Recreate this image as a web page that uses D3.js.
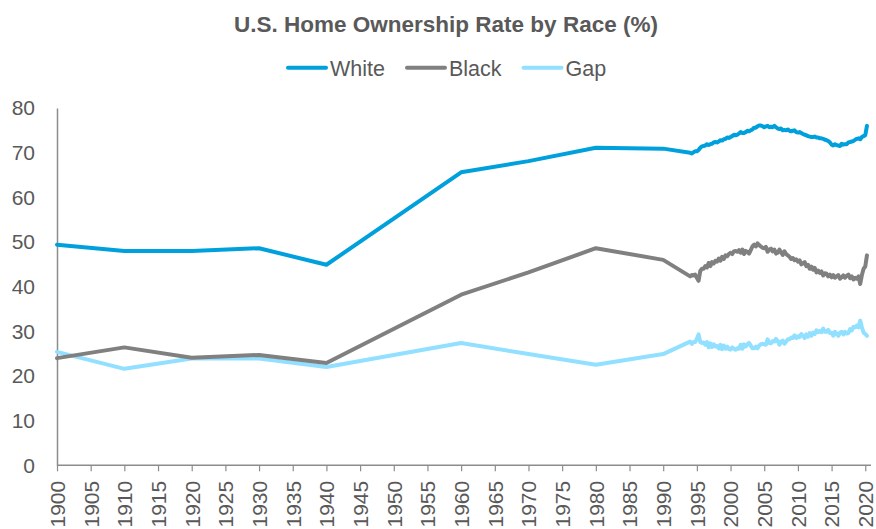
<!DOCTYPE html>
<html>
<head>
<meta charset="utf-8">
<script src="https://cdn.jsdelivr.net/npm/d3@7"></script>
<style>
  html, body { margin: 0; padding: 0; background: #fff; }
  svg { display: block; font-family: "Liberation Sans", Arial, sans-serif; }
</style>
</head>
<body>
<svg id="chart" width="876" height="529"></svg>
<script>
// ---- Data ----
const title = "U.S. Home Ownership Rate by Race (%)";
const seriesNames = ["White", "Black", "Gap"];

// Decennial census points
const censusYears = [1900, 1910, 1920, 1930, 1940, 1960, 1970, 1980, 1990];
const whiteCensus = [49.4, 48.0, 48.0, 48.6, 44.9, 65.6, 68.1, 71.1, 70.9];
const blackCensus = [24.0, 26.4, 24.1, 24.7, 22.9, 38.2, 43.2, 48.6, 46.0];
const gapCensus   = [25.4, 21.6, 23.9, 23.9, 22.0, 27.4, 24.9, 22.5, 24.9];

// Quarterly survey points, 1994 Q1 .. 2020 Q2
const quarterStartYear = 1994;
const whiteQuarterly = [
  70.0, 69.8, 70.1, 70.3,  70.3, 70.6, 71.1, 71.4,  71.5, 71.6, 71.9, 71.7,
  71.9, 72.0, 72.3, 72.4,  72.3, 72.5, 72.8, 72.7,  73.0, 73.1, 73.4, 73.3,
  73.5, 73.7, 74.0, 73.9,  74.0, 74.3, 74.6, 74.4,  74.4, 74.6, 74.9, 74.8,
  75.0, 75.2, 75.6, 75.6,  75.9, 76.1, 76.1, 75.9,  75.7, 75.9, 76.0, 75.7,
  75.8, 75.7, 76.0, 75.7,  75.4, 75.3, 75.4, 75.0,  75.1, 75.0, 75.2, 74.9,
  74.8, 74.9, 75.0, 74.6,  74.5, 74.6, 74.4, 74.2,  74.0, 73.9, 73.7, 73.6,
  73.5, 73.5, 73.6, 73.4,  73.4, 73.2, 73.2, 73.1,  72.9, 72.8, 72.6, 72.3,
  71.8, 71.6, 71.9, 71.7,  71.6, 71.5, 72.0, 71.8,  71.9, 71.9, 72.3, 72.4,
  72.5, 72.6, 72.9, 73.1,  73.2, 73.0, 73.5, 73.7,  73.9, 76.0
];
const blackQuarterly = [
  42.3, 42.6, 42.5, 42.7,  42.0, 41.3, 43.5, 44.0,  44.0, 44.6, 44.3, 45.3,
  44.6, 45.5, 45.2, 45.8,  45.6, 46.3, 45.8, 46.7,  46.2, 47.0, 46.8, 47.3,
  47.6, 47.3, 47.9, 48.0,  47.8, 48.2, 47.6, 48.3,  47.3, 48.0, 47.8, 47.4,
  48.2, 49.0, 49.4, 49.0,  49.7, 49.3, 49.0, 48.7,  48.6, 48.9, 47.8, 48.3,
  48.5, 47.9, 48.3, 47.4,  47.6, 48.3, 47.7, 47.1,  47.9, 47.3, 47.0, 46.7,
  46.2, 46.4, 45.9, 46.1,  45.6, 45.9, 45.0, 45.2,  45.5, 44.6, 44.9, 44.0,
  44.5, 43.8, 44.2, 43.2,  43.6, 43.1, 43.4, 42.5,  43.0, 42.9, 42.3, 42.7,
  42.1, 42.6, 42.0, 42.3,  42.6, 41.8, 42.1, 42.5,  42.0, 42.4, 42.7, 41.9,
  42.3, 41.6, 42.0, 41.8,  42.3, 40.6, 42.6, 44.0,  44.5, 47.0
];
const gapQuarterly = [
  27.7, 27.2, 27.6, 27.6,  28.3, 29.3, 27.6, 27.4,  27.5, 27.0, 27.6, 26.4,
  27.3, 26.5, 27.1, 26.6,  26.7, 26.2, 27.0, 26.0,  26.8, 26.1, 26.6, 26.0,
  25.9, 26.4, 26.1, 25.9,  26.2, 26.1, 27.0, 26.1,  27.1, 26.6, 27.1, 27.4,
  26.8, 26.2, 26.2, 26.6,  26.2, 26.8, 27.1, 27.2,  27.1, 27.0, 28.2, 27.4,
  27.3, 27.8, 27.7, 28.3,  27.8, 27.0, 27.7, 27.9,  27.2, 27.7, 28.2, 28.2,
  28.6, 28.5, 29.1, 28.5,  28.9, 28.7, 29.4, 29.0,  28.5, 29.3, 28.8, 29.6,
  29.0, 29.7, 29.4, 30.2,  29.8, 30.1, 29.8, 30.6,  29.9, 29.9, 30.3, 29.6,
  29.7, 29.0, 29.9, 29.4,  29.0, 29.7, 29.9, 29.3,  29.9, 29.5, 29.6, 30.5,
  30.2, 31.0, 30.9, 31.3,  30.9, 32.4, 30.9, 29.7,  29.4, 29.0
];

const xTickYears = d3.range(1900, 2021, 5);
const yTickValues = [0, 10, 20, 30, 40, 50, 60, 70, 80];

// ---- Styling ----
const colors = { White: "#00a0dc", Black: "#808080", Gap: "#92e0ff" };
const textColor = "#595959";
const axisColor = "#8c8c8c";

// ---- Build series ----
const quarterYears = whiteQuarterly.map((_, i) => quarterStartYear + i / 4);
function build(census, quarterly) {
  return censusYears.map((y, i) => ({ x: y, v: census[i] }))
    .concat(quarterYears.map((y, i) => ({ x: y, v: quarterly[i] })));
}
const series = [
  { name: "White", values: build(whiteCensus, whiteQuarterly) },
  { name: "Black", values: build(blackCensus, blackQuarterly) },
  { name: "Gap",   values: build(gapCensus, gapQuarterly) }
];

// ---- Scales ----
const svg = d3.select("#chart");
const x = d3.scaleLinear().domain([1900, 2021]).range([57, 872]);
const y = d3.scaleLinear().domain([0, 80]).range([465.3, 108]);

// ---- Title ----
svg.append("text")
  .attr("x", 446).attr("y", 31.5)
  .attr("text-anchor", "middle")
  .attr("fill", textColor)
  .attr("font-size", "22.5px")
  .attr("font-weight", "bold")
  .text(title);

// ---- Legend ----
const legendItems = [
  { name: "White", lx: 288 },
  { name: "Black", lx: 407 },
  { name: "Gap", lx: 523.5 }
];
const lg = svg.append("g");
legendItems.forEach(it => {
  lg.append("line")
    .attr("x1", it.lx).attr("x2", it.lx + 38)
    .attr("y1", 67.7).attr("y2", 67.7)
    .attr("stroke", colors[it.name]).attr("stroke-width", 4)
    .attr("stroke-linecap", "round");
  lg.append("text")
    .attr("x", it.lx + 42).attr("y", 75.5)
    .attr("fill", textColor)
    .attr("font-size", "21.5px")
    .text(it.name);
});

// ---- Axes ----
const yAxis = d3.axisLeft(y).tickValues(yTickValues).tickSize(0).tickPadding(22);
const yg = svg.append("g").attr("transform", `translate(${x(1900)},0)`).call(yAxis);
yg.select(".domain").attr("stroke", axisColor).attr("stroke-width", 1.5);
yg.selectAll("text").attr("fill", textColor).attr("font-size", "21px")
  .attr("font-family", '"Liberation Sans", Arial, sans-serif');

const xAxis = d3.axisBottom(x).tickValues(xTickYears).tickSize(6).tickFormat(d3.format("d"));
const xg = svg.append("g").attr("transform", `translate(0,${y(0)})`).call(xAxis);
xg.select(".domain").attr("stroke", axisColor).attr("stroke-width", 1.5)
  .attr("d", `M${x(1900)},0H${x(2021) - 1}`);
xg.selectAll(".tick line").attr("stroke", axisColor).attr("stroke-width", 1.2);
xg.selectAll("text")
  .attr("fill", textColor).attr("font-size", "21px")
  .attr("font-family", '"Liberation Sans", Arial, sans-serif')
  .attr("transform", "rotate(-90)")
  .attr("text-anchor", "end")
  .attr("x", -15.5).attr("y", 0).attr("dy", "0.35em");

// ---- Lines ----
const line = d3.line().x(d => x(d.x)).y(d => y(d.v));
svg.append("g").selectAll("path")
  .data(series.slice().reverse())
  .join("path")
  .attr("d", d => line(d.values))
  .attr("fill", "none")
  .attr("stroke", d => colors[d.name])
  .attr("stroke-width", 4)
  .attr("stroke-linejoin", "round")
  .attr("stroke-linecap", "round");
</script>
</body>
</html>
